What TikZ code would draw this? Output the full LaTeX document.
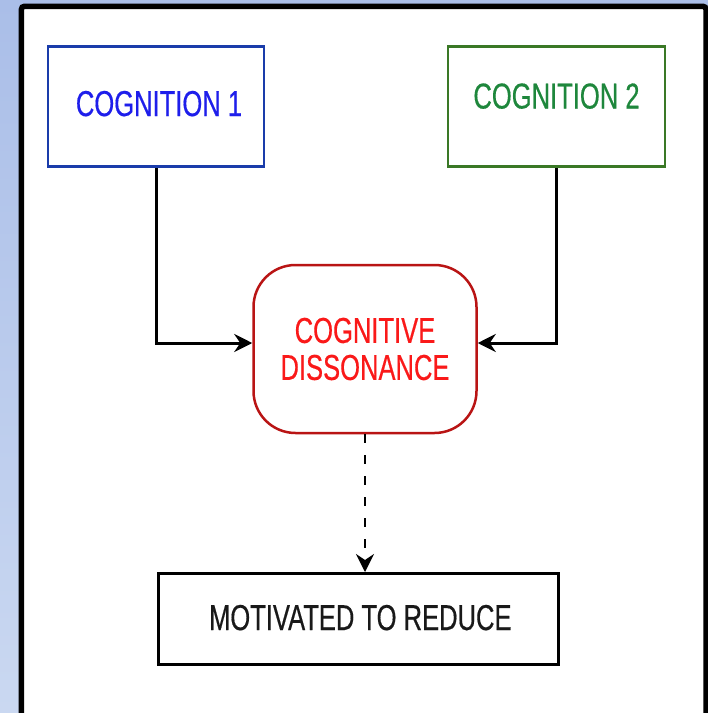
\documentclass[tikz,border=0pt]{standalone}
\usepackage{fontspec}
\setmainfont{Liberation Sans}[FakeStretch=0.71,FakeBold=0.4]
\usetikzlibrary{arrows.meta}
\definecolor{bgtop}{RGB}{170,190,232}
\definecolor{bgbot}{RGB}{202,216,241}
\definecolor{cogblue}{RGB}{26,60,170}
\definecolor{cogbluetext}{RGB}{30,30,235}
\definecolor{coggreen}{RGB}{58,120,38}
\definecolor{coggreentext}{RGB}{30,135,60}
\definecolor{dissred}{RGB}{185,20,20}
\definecolor{dissredtext}{RGB}{250,25,25}
\tikzset{
  box/.style={draw, line width=2.5pt, fill=white, font=\fontsize{36}{37}\selectfont, align=center},
  link/.style={line width=3pt, -{Stealth[length=18pt,width=18pt,inset=6pt]}},
}

\begin{document}
\begin{tikzpicture}[x=1pt,y=1pt]
                    \useasboundingbox (0,0) rectangle (708,-713);
                    \clip (0,0) rectangle (708,-713);
                    \shade[top color=bgtop,bottom color=bgbot] (0,0) rectangle (708,-713);
                    \draw[line width=5.5pt,fill=white,rounded corners=3pt] (21.4,-6.3) rectangle (706,-730);

                    % the two cognitions
                    \node[box, draw=cogblue, text=cogbluetext, minimum width=216pt, minimum height=120pt, text height=26pt, text depth=7pt] (cog1) at (156,-106.5) {\hspace*{6pt}COGNITION 1};
                    \node[box, draw=coggreen, text=coggreentext, minimum width=217pt, minimum height=120pt, text height=26pt, text depth=22pt] (cog2) at (556.5,-106.5) {COGNITION 2};

                    \node[box, draw=dissred, text=dissredtext, rounded corners=42pt, minimum width=223pt, minimum height=168pt] (diss) at (365,-349) {COGNITIVE\\DISSONANCE};
                    \node[box, draw=black, text=black!90, line width=3pt, minimum width=400pt, minimum height=91pt, text height=26pt, text depth=4pt] (motiv) at (358.3,-619) {\hspace*{4pt}MOTIVATED TO REDUCE};

                    \draw[link] (cog1.south) |- ([yshift=6pt]diss.west);
                    \draw[link] (cog2.south) |- ([yshift=6pt]diss.east);
                    \draw[link, line width=2pt, dash pattern=on 9pt off 12pt] (diss.south) -- (diss.south |- motiv.north);
                \end{tikzpicture}
\end{document}
